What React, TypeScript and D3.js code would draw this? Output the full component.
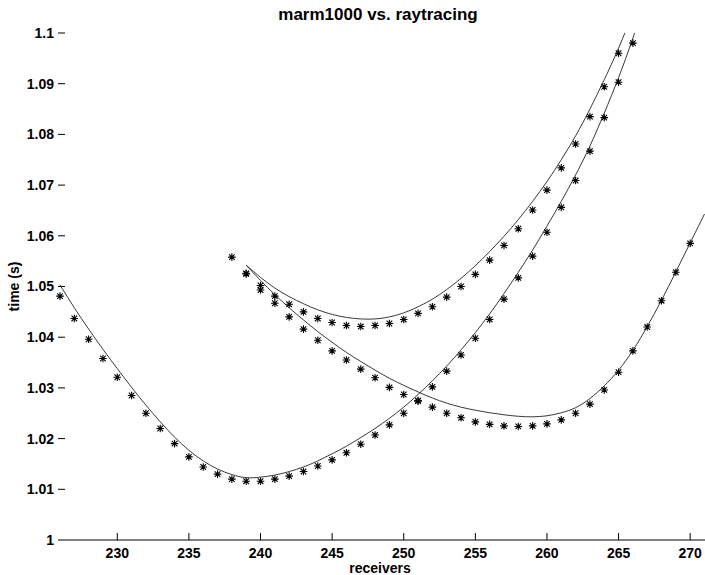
import React from "react";
import * as d3 from "d3";

// ---- data ----
const titleText = "marm1000 vs. raytracing";
const xLabel = "receivers";
const yLabel = "time (s)";
const xTicks = [230, 235, 240, 245, 250, 255, 260, 265, 270];
const yTicks = [1, 1.01, 1.02, 1.03, 1.04, 1.05, 1.06, 1.07, 1.08, 1.09, 1.1];

// marm1000 picks (stars)
const starsAx = [226,227,228,229,230,231,232,233,234,235,236,237,238,239,240,241,242,243,244,245,246,247,248,249,250,251,252,253,254,255,256,257,258,259,260,261,262,263,264,265,266];
const starsAy = [1.0481,1.0437,1.0396,1.0358,1.0321,1.0285,1.0250,1.0220,1.0190,1.0164,1.0144,1.0130,1.0120,1.0116,1.0116,1.0120,1.0126,1.0135,1.0146,1.0158,1.0172,1.0189,1.0207,1.0227,1.0250,1.0275,1.0302,1.0333,1.0365,1.0398,1.0435,1.0475,1.0517,1.0560,1.0607,1.0656,1.0709,1.0767,1.0833,1.0903,1.0980];

const starsBx = [239,240,241,242,243,244,245,246,247,248,249,250,251,252,253,254,255,256,257,258,259,260,261,262,263,264,265];
const starsBy = [1.0526,1.0502,1.0481,1.0465,1.0450,1.0437,1.0429,1.0423,1.0421,1.0423,1.0427,1.0435,1.0447,1.0460,1.0479,1.0500,1.0524,1.0552,1.0581,1.0614,1.0651,1.0690,1.0734,1.0781,1.0835,1.0894,1.0960];

const starsCx = [238,239,240,241,242,243,244,245,246,247,248,249,250,251,252,253,254,255,256,257,258,259,260,261,262,263,264,265,266,267,268,269,270];
const starsCy = [1.0558,1.0525,1.0493,1.0467,1.0440,1.0416,1.0394,1.0373,1.0355,1.0337,1.0320,1.0301,1.0287,1.0274,1.0262,1.0250,1.0241,1.0233,1.0228,1.0225,1.0224,1.0225,1.0229,1.0237,1.0250,1.0268,1.0296,1.0331,1.0373,1.0420,1.0472,1.0528,1.0585];

// raytracing curves (lines)
const lineAx = [226,227,228,229,230,231,232,233,234,235,236,237,238,239,240,241,242,243,244,245,246,247,248,249,250,251,252,253,254,255,256,257,258,259,260,261,262,263,264,265,266,267];
const lineAy = [1.0503,1.0458,1.0416,1.0376,1.0338,1.0301,1.0266,1.0233,1.0203,1.0177,1.0156,1.0140,1.0129,1.0123,1.0124,1.0128,1.0135,1.0144,1.0156,1.0170,1.0185,1.0202,1.0220,1.0240,1.0262,1.0287,1.0314,1.0343,1.0375,1.0409,1.0446,1.0486,1.0528,1.0572,1.0619,1.0668,1.0720,1.0777,1.0842,1.0912,1.0990,1.1075];

const lineBx = [239,240,241,242,243,244,245,246,247,248,249,250,251,252,253,254,255,256,257,258,259,260,261,262,263,264,265,266];
const lineBy = [1.0542,1.0518,1.0497,1.0480,1.0466,1.0454,1.0445,1.0439,1.0436,1.0436,1.0440,1.0448,1.0460,1.0475,1.0494,1.0516,1.0541,1.0569,1.0599,1.0632,1.0668,1.0707,1.0750,1.0797,1.0850,1.0908,1.0970,1.1040];

const lineCx = [239,240,241,242,243,244,245,246,247,248,249,250,251,252,253,254,255,256,257,258,259,260,261,262,263,264,265,266,267,268,269,270,271];
const lineCy = [1.0542,1.0512,1.0484,1.0458,1.0434,1.0411,1.0390,1.0370,1.0352,1.0335,1.0319,1.0305,1.0292,1.0280,1.0270,1.0262,1.0256,1.0251,1.0247,1.0244,1.0243,1.0245,1.0251,1.0261,1.0279,1.0304,1.0335,1.0374,1.0421,1.0473,1.0529,1.0586,1.0643];

const W = 705;
const H = 575;
const FONT = "'Liberation Sans', Arial, Helvetica, sans-serif";

const zip = (xs: number[], ys: number[]) => xs.map((x, i) => [x, ys[i]] as [number, number]);

export default function App() {
  const x = d3.scaleLinear().domain([226, 271]).range([60, 704.5]);
  const y = d3.scaleLinear().domain([1, 1.1]).range([540, 33]);
  const [x0, x1] = x.range();

  const line = d3
    .line<[number, number]>()
    .x((d) => x(d[0]))
    .y((d) => y(d[1]))
    .curve(d3.curveNatural);

  const lines = [zip(lineAx, lineAy), zip(lineBx, lineBy), zip(lineCx, lineCy)];
  const stars = [zip(starsAx, starsAy), zip(starsBx, starsBy), zip(starsCx, starsCy)];

  const r = 3.8;
  const rd = 2.8;
  const starPath = `M${-r},0H${r}M0,${-r}V${r}M${-rd},${-rd}L${rd},${rd}M${-rd},${rd}L${rd},${-rd}`;

  return (
    <svg
      width={W}
      height={H}
      style={{ position: "absolute", left: 0, top: 0, background: "#fff" }}
      fontFamily={FONT}
    >
      <defs>
        <clipPath id="plotclip">
          <rect x={x0 - 2} y={y(1.1)} width={x1 - x0 + 4} height={y(1) - y(1.1)} />
        </clipPath>
      </defs>
      <rect x={0} y={0} width={W} height={H} fill="#fff" />

      {/* title */}
      <text x={378} y={20} textAnchor="middle" fontSize={17} fontWeight="bold" fill="#000">
        {titleText}
      </text>

      {/* y ticks */}
      {yTicks.map((t) => (
        <g key={"y" + t}>
          {t !== 1 && <line x1={58} x2={65} y1={y(t)} y2={y(t)} stroke="#000" strokeWidth={1} />}
          <text x={54} y={y(t)} dy="0.35em" textAnchor="end" fontSize={14} fontWeight="bold" fill="#000">
            {d3.format("")(t)}
          </text>
        </g>
      ))}

      {/* x axis */}
      <line x1={58} x2={W} y1={y(1)} y2={y(1)} stroke="#000" strokeWidth={1} />
      {xTicks.map((t) => (
        <g key={"x" + t}>
          <line x1={x(t)} x2={x(t)} y1={y(1)} y2={y(1) - 7} stroke="#000" strokeWidth={1} />
          <text x={x(t)} y={558} textAnchor="middle" fontSize={14} fontWeight="bold" fill="#000">
            {t}
          </text>
        </g>
      ))}
      <text x={380} y={573} textAnchor="middle" fontSize={14} fontWeight="bold" fill="#000">
        {xLabel}
      </text>
      <text
        transform={`translate(19,${(y(1) + y(1.1)) / 2}) rotate(-90)`}
        textAnchor="middle"
        fontSize={14}
        fontWeight="bold"
        fill="#000"
      >
        {yLabel}
      </text>

      <g clipPath="url(#plotclip)">
        {lines.map((d, i) => (
          <path key={"l" + i} d={line(d) || ""} fill="none" stroke="#222" strokeWidth={0.9} />
        ))}
      </g>
      {stars.map((s, i) => (
        <g key={"s" + i}>
          {s.map((d, j) => (
            <path
              key={j}
              d={starPath}
              transform={`translate(${x(d[0])},${y(d[1])})`}
              stroke="#000"
              strokeWidth={1.1}
              fill="none"
            />
          ))}
        </g>
      ))}
    </svg>
  );
}
